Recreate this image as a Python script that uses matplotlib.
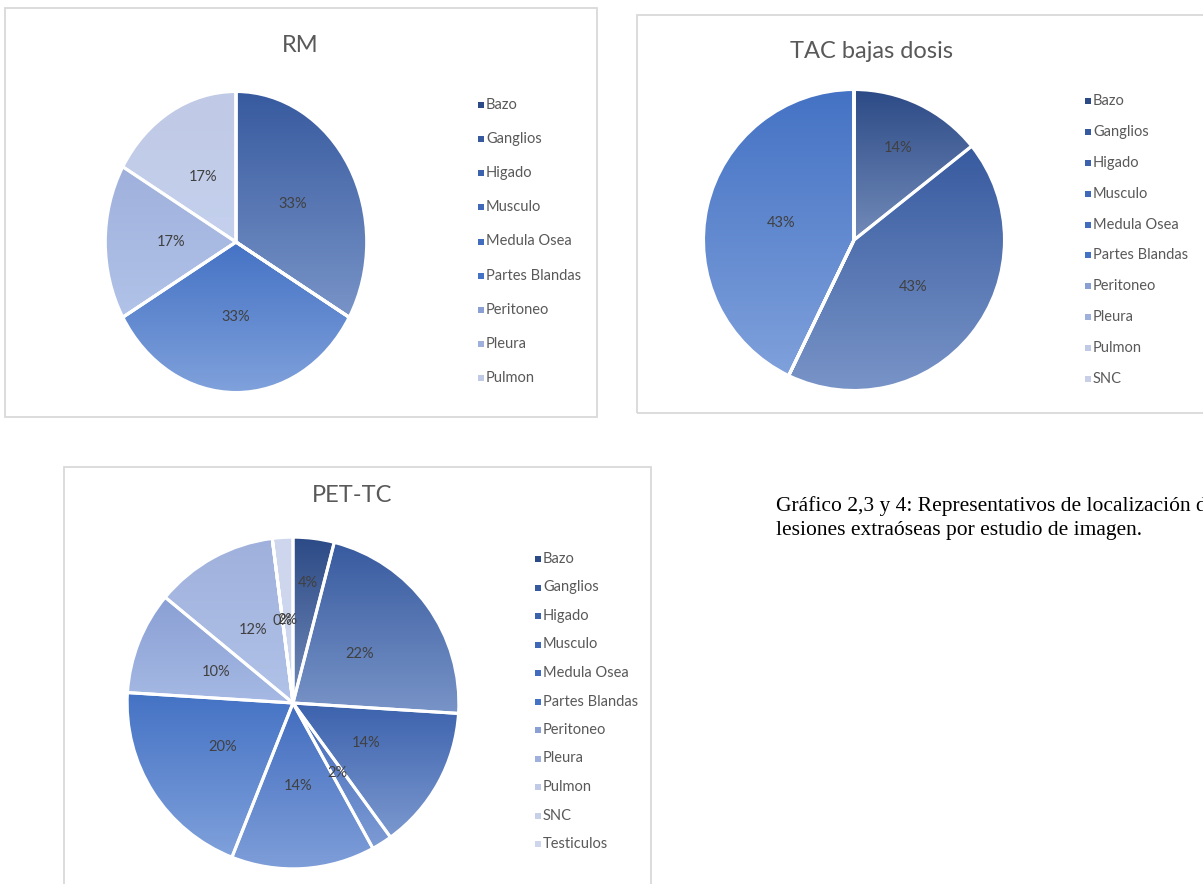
import numpy as np
import matplotlib
matplotlib.use("Agg")
import matplotlib.pyplot as plt
from matplotlib.patches import Rectangle
from matplotlib.colors import to_rgb

# --- data (None = celda vacia, sin etiqueta) ---
rm_categories = ["Bazo", "Ganglios", "Higado", "Musculo", "Medula Osea",
                 "Partes Blandas", "Peritoneo", "Pleura", "Pulmon"]
rm_values = [None, 2, None, None, None, 2, None, 1, 1]

tac_categories = ["Bazo", "Ganglios", "Higado", "Musculo", "Medula Osea",
                  "Partes Blandas", "Peritoneo", "Pleura", "Pulmon", "SNC"]
tac_values = [1, 3, None, None, None, 3, None, None, None, None]

pet_categories = ["Bazo", "Ganglios", "Higado", "Musculo", "Medula Osea",
                  "Partes Blandas", "Peritoneo", "Pleura", "Pulmon", "SNC",
                  "Testiculos"]
pet_values = [2, 11, 7, 1, 7, 10, 5, 6, 0, None, 1]

caption = ("Gráfico 2,3 y 4: Representativos de localización de las\n"
           "lesiones extraóseas por estudio de imagen.")

# monochromatic blue palette, one shade per category position
shades = ["#2c4a86", "#375a9f", "#3c62ad", "#4068b8", "#426dbf", "#4472c4",
          "#8a9fd4", "#9fb0dc", "#c0c9e5", "#c8d0e8", "#ced6ec"]

W, H = 1203, 884
fig = plt.figure(figsize=(W / 100, H / 100), dpi=100)
fig.patch.set_facecolor("white")

FONT = ["Lato", "DejaVu Sans"]


def px_rect(x, y, w, h):
    # pixel box (top-left origin) -> figure fraction
    return [x / W, 1 - (y + h) / H, w / W, h / H]


def lighter(c, f=0.45):
    target = np.array(to_rgb("#c8daf8"))
    return c + f * (target - c)


def box(x0, y0, x1, y1):
    fig.add_artist(Rectangle((x0 / W, 1 - y1 / H), (x1 - x0) / W, (y1 - y0) / H,
                             transform=fig.transFigure, fill=False,
                             edgecolor="#d9d9d9", linewidth=1.3))


def pie_chart(rect, values, categories, push=None):
    ax = fig.add_axes(px_rect(*rect))
    vals = [0 if v is None else v for v in values]
    total = sum(vals)
    cols = [np.array(to_rgb(s)) for s in shades[:len(categories)]]
    wedges, _ = ax.pie(vals, startangle=90, counterclock=False, radius=1,
                       colors=cols,
                       wedgeprops=dict(edgecolor="white", linewidth=2.2))
    grad = np.linspace(0, 1, 256)[:, None]
    for w, c in zip(wedges, cols):
        bb = w.get_path().get_extents()
        top, bot = c, lighter(c)
        img = top[None, None, :] * (1 - grad[:, :, None]) + bot[None, None, :] * grad[:, :, None]
        im = ax.imshow(img, extent=[bb.x0, bb.x1, bb.y0, bb.y1], origin="upper",
                       aspect="auto", zorder=1, interpolation="bilinear")
        im.set_clip_path(w)
        w.set_facecolor("none")
        w.set_zorder(2)
    for i, (w, v) in enumerate(zip(wedges, values)):
        if v is None:
            continue
        mid = np.deg2rad((w.theta1 + w.theta2) / 2)
        d = (push or {}).get(i, 0.5)
        ax.text(d * np.cos(mid), d * np.sin(mid), f"{round(100 * v / total)}%",
                ha="center", va="center", fontsize=10.5, color="#404040",
                family=FONT, zorder=3)
    ax.set_aspect("auto")
    ax.set_xlim(-1.01, 1.01)
    ax.set_ylim(-1.01, 1.01)
    ax.axis("off")
    return cols


def legend(categories, cols, x, y_first, y_last):
    n = len(categories)
    for i, (name, c) in enumerate(zip(categories, cols)):
        y = y_first + (y_last - y_first) * i / (n - 1)
        fig.add_artist(Rectangle(((x - 8) / W, 1 - (y + 3) / H), 6 / W, 6 / H,
                                 transform=fig.transFigure, facecolor=c,
                                 edgecolor="none"))
        fig.text(x / W, 1 - y / H, name, ha="left", va="center",
                 fontsize=10.5, color="#595959", family=FONT)


# frames
box(5, 8, 597, 417)
box(637, 15, 1215, 413)
box(64, 467, 651, 895)

# RM
c = pie_chart((104, 90, 264, 304), rm_values, rm_categories)
fig.text(300 / W, 1 - 46 / H, "RM", ha="center", va="center", fontsize=17,
         color="#595959", family=FONT)
legend(rm_categories, c, 486, 105, 378)

# TAC bajas dosis
c = pie_chart((702, 88, 304, 304), tac_values, tac_categories, push={0: 0.68})
fig.text(872 / W, 1 - 52 / H, "TAC bajas dosis", ha="center", va="center",
         fontsize=17, color="#595959", family=FONT)
legend(tac_categories, c, 1093, 101, 379)

# PET-TC
c = pie_chart((125.5, 535.5, 335, 335), pet_values, pet_categories, push={0: 0.73})
fig.text(352 / W, 1 - 496 / H, "PET-TC", ha="center", va="center", fontsize=17,
         color="#595959", family=FONT)
legend(pet_categories, c, 543, 559, 844)

fig.text(776 / W, 1 - 496 / H, caption, ha="left", va="top", fontsize=15.5,
         family=["Liberation Serif"], color="black", linespacing=1.38)

fig.savefig("out.png", dpi=100, facecolor="white")
